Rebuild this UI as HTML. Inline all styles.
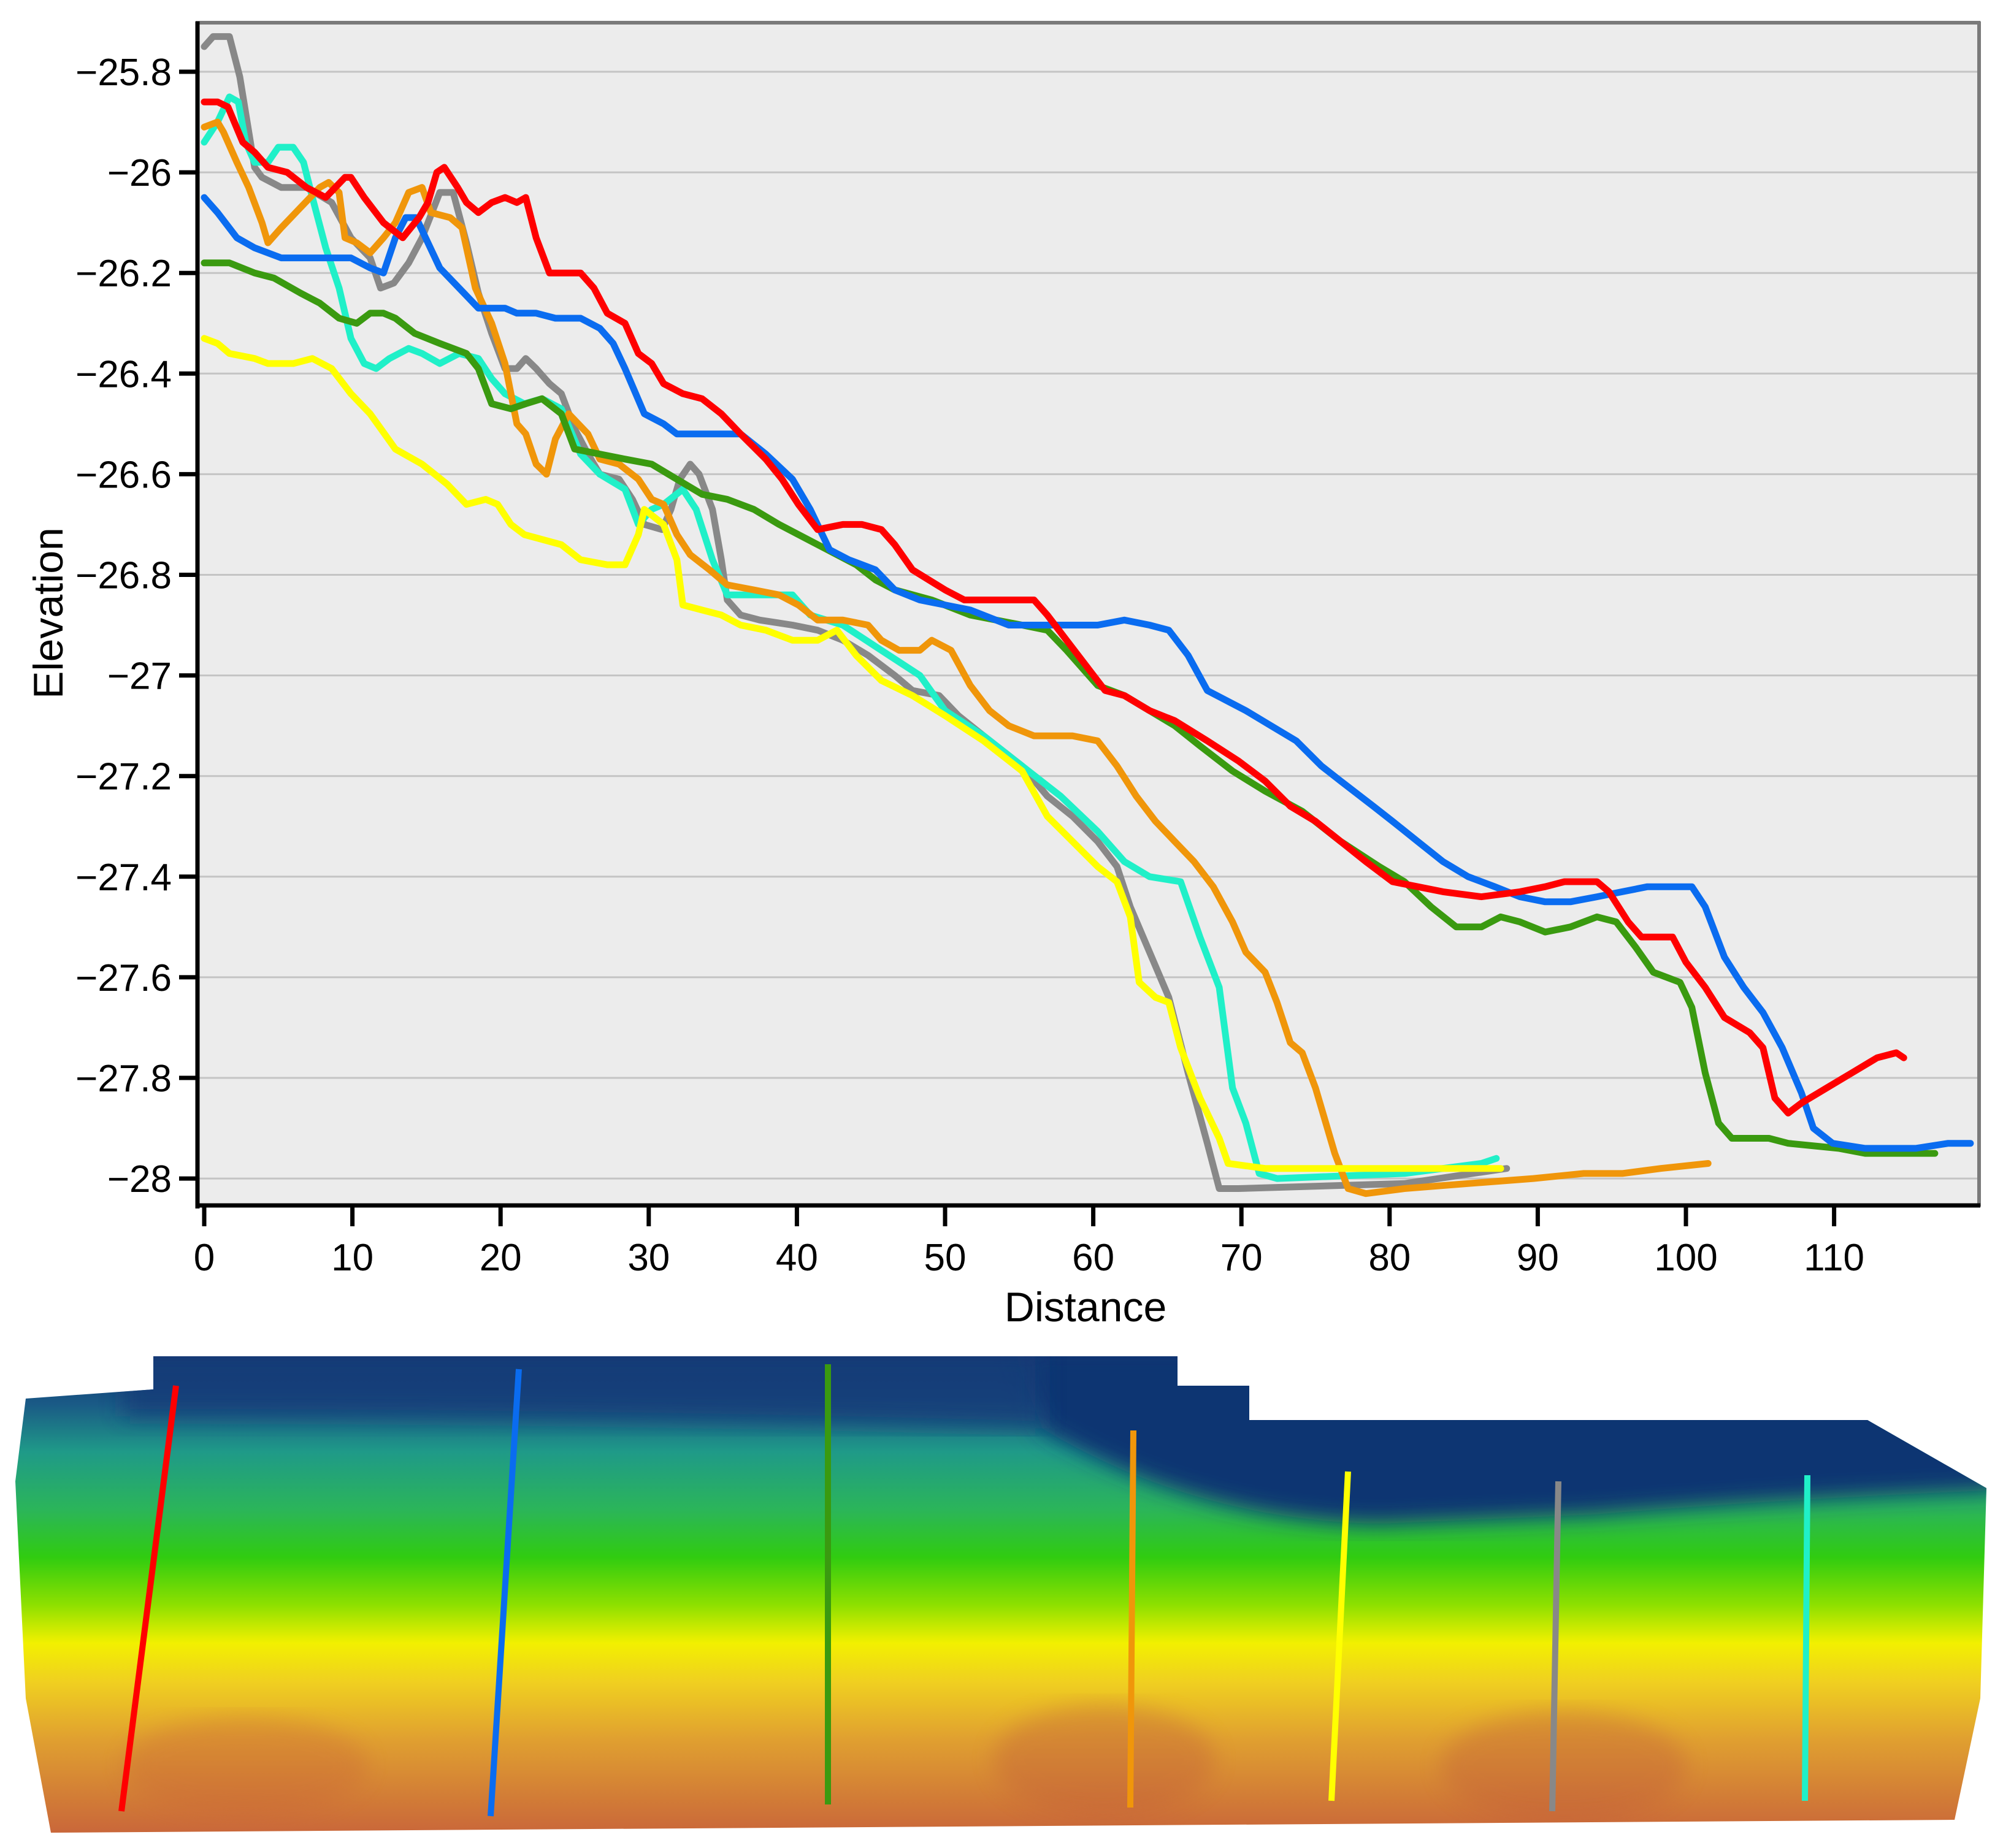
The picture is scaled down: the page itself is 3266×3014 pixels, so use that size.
<!DOCTYPE html>
<html><head><meta charset="utf-8"><style>
html,body{margin:0;padding:0;background:#fff;}
svg{display:block;}
text{font-family:"Liberation Sans",Arial,sans-serif;fill:#000;}
</style></head><body>
<svg id="chart" width="3266" height="3014" viewBox="0 0 3266 3014" xmlns="http://www.w3.org/2000/svg">
<defs>
<linearGradient id="mapgrad" x1="0" y1="0" x2="0" y2="1">
<stop offset="0" stop-color="#0f3472"/>
<stop offset="0.1" stop-color="#1a5a86"/>
<stop offset="0.2" stop-color="#1f9a88"/>
<stop offset="0.32" stop-color="#2bb55a"/>
<stop offset="0.42" stop-color="#30cc10"/>
<stop offset="0.52" stop-color="#8ee000"/>
<stop offset="0.6" stop-color="#f2f000"/>
<stop offset="0.68" stop-color="#f0d020"/>
<stop offset="0.8" stop-color="#e0a030"/>
<stop offset="1" stop-color="#c9663a"/>
</linearGradient>
<filter id="soft"><feGaussianBlur stdDeviation="18"/></filter>
<clipPath id="mapclip"><polygon points="42,2281 250,2266 250,2212 1920,2212 1920,2260 2037,2260 2037,2316 3045,2316 3239,2427 3229,2770 3187,2968 83,2989 42,2770 25,2416"/></clipPath>
<clipPath id="plotclip"><rect x="322" y="38" width="2904" height="1927"/></clipPath>
</defs>
<rect x="319" y="35" width="2910" height="1933" fill="#ececec"/>
<g id="grid"></g>
<g id="series" clip-path="url(#plotclip)"></g>
<line x1="319" y1="37" x2="3229" y2="37" stroke="#7a7a7a" stroke-width="6"/>
<line x1="3227" y1="35" x2="3227" y2="1968" stroke="#7a7a7a" stroke-width="6"/>
<line x1="322" y1="35" x2="322" y2="1971" stroke="#000" stroke-width="7"/>
<line x1="319" y1="1966" x2="3229" y2="1966" stroke="#000" stroke-width="7"/>
<g id="yticks"></g>
<g id="xticks"></g>
<text x="1770" y="2155" font-size="68" text-anchor="middle">Distance</text>
<text transform="translate(102,1000) rotate(-90)" font-size="68" text-anchor="middle">Elevation</text>
<g clip-path="url(#mapclip)">
<rect x="0" y="2212" width="3266" height="780" fill="url(#mapgrad)"/>
<path d="M1650,2200 L1700,2330 Q1950,2480 2250,2485 L2600,2470 Q2900,2445 3260,2430 L3260,2200 Z" fill="#0f3472" filter="url(#soft)"/>
<path d="M200,2200 L1700,2200 L1700,2330 Q1000,2310 200,2310 Z" fill="#123d78" filter="url(#soft)" opacity="0.85"/>
<ellipse cx="2550" cy="2880" rx="200" ry="90" fill="#c05a3a" opacity="0.35" filter="url(#soft)"/>
<ellipse cx="1800" cy="2870" rx="180" ry="90" fill="#c05a3a" opacity="0.35" filter="url(#soft)"/>
<ellipse cx="400" cy="2880" rx="200" ry="80" fill="#c86038" opacity="0.3" filter="url(#soft)"/>
</g>
<g id="transects">
<line x1="287" y1="2260" x2="198" y2="2954" stroke="#ff0000" stroke-width="10"/>
<line x1="846" y1="2233" x2="800" y2="2962" stroke="#0a6cf0" stroke-width="10"/>
<line x1="1350" y1="2225" x2="1350" y2="2943" stroke="#3a9a10" stroke-width="10"/>
<line x1="1848" y1="2333" x2="1843" y2="2948" stroke="#f0960a" stroke-width="10"/>
<line x1="2198" y1="2400" x2="2171" y2="2937" stroke="#ffff00" stroke-width="10"/>
<line x1="2541" y1="2416" x2="2531" y2="2954" stroke="#888888" stroke-width="10"/>
<line x1="2947" y1="2406" x2="2943" y2="2937" stroke="#20f0c8" stroke-width="10"/>
</g>
</svg>
<script>
const yTicks=[-25.8,-26,-26.2,-26.4,-26.6,-26.8,-27,-27.2,-27.4,-27.6,-27.8,-28];
const yTickLabels=["\u221225.8","\u221226","\u221226.2","\u221226.4","\u221226.6","\u221226.8","\u221227","\u221227.2","\u221227.4","\u221227.6","\u221227.8","\u221228"];
const xTicks=[0,10,20,30,40,50,60,70,80,90,100,110];
const seriesNames=["gray","cyan","orange","yellow","green","blue","red"];
const seriesColors=["#888888","#20f0c8","#f0960a","#ffff00","#3a9a10","#0a6cf0","#ff0000"];
const grayD=[0,0.6,1.7,2.4,3.4,3.9,5.2,6.9,8.6,9.9,11.2,11.9,12.8,13.8,14.7,15.9,16.8,17.7,18.5,19.4,20.3,21.1,21.7,22.4,23.3,24.1,25,25.9,26.7,28,28.9,29.7,30.9,31.5,32.1,32.8,33.4,34.3,34.9,35.3,36.2,37.5,39.7,41.4,43.1,44.8,46.6,47.8,49.6,50.9,52.6,55.2,56.9,58.6,60.3,61.6,62.5,63.8,65.1,66.4,67.7,68.5,69.8,81,87.9];
const grayE=[-25.75,-25.73,-25.73,-25.81,-25.99,-26.01,-26.03,-26.03,-26.06,-26.13,-26.17,-26.23,-26.22,-26.18,-26.13,-26.04,-26.04,-26.14,-26.24,-26.32,-26.39,-26.39,-26.37,-26.39,-26.42,-26.44,-26.51,-26.56,-26.6,-26.61,-26.65,-26.7,-26.71,-26.67,-26.61,-26.58,-26.6,-26.67,-26.77,-26.85,-26.88,-26.89,-26.9,-26.91,-26.93,-26.96,-27,-27.03,-27.04,-27.08,-27.12,-27.18,-27.24,-27.28,-27.33,-27.38,-27.46,-27.55,-27.64,-27.79,-27.93,-28.02,-28.02,-28.01,-27.98];
const cyanD=[0,0.9,1.7,2.3,2.8,3.4,4.3,5,6,6.7,7.3,8.2,9.1,9.9,10.8,11.6,12.5,13.8,14.7,15.9,17.2,18.5,19.4,20.3,21.6,22.8,24.1,25.4,26.7,28.4,29.3,30.2,31,32.3,33.2,34.3,35.3,37.9,39.7,40.9,43.1,45.7,48.3,50,52.6,55.2,57.8,60.3,62.1,63.8,65.9,67.2,68.5,69.4,70.3,71.2,72.4,81,86.2,87.2];
const cyanE=[-25.94,-25.9,-25.85,-25.86,-25.94,-25.98,-25.98,-25.95,-25.95,-25.98,-26.05,-26.15,-26.23,-26.33,-26.38,-26.39,-26.37,-26.35,-26.36,-26.38,-26.36,-26.37,-26.41,-26.44,-26.46,-26.45,-26.47,-26.56,-26.6,-26.63,-26.7,-26.67,-26.66,-26.63,-26.67,-26.77,-26.84,-26.84,-26.84,-26.88,-26.9,-26.95,-27,-27.07,-27.12,-27.18,-27.24,-27.31,-27.37,-27.4,-27.41,-27.52,-27.62,-27.82,-27.89,-27.99,-28,-27.99,-27.97,-27.96];
const orangeD=[0,0.9,1.3,2.2,3,3.9,4.3,5.2,6.5,7.8,8.4,9.1,9.5,10.3,11.2,12.1,12.9,13.8,14.7,15.3,16.6,17.4,18.3,19.4,20.3,21.1,21.7,22.4,23.1,23.7,24.6,25.9,26.7,28,29.3,30.2,31,31.9,32.8,34.1,35.3,37.1,38.8,40.1,41.4,43.1,44.8,45.7,46.9,48.3,49.1,50.4,51.7,53,54.3,56,58.6,60.3,61.6,62.9,64.2,65.5,66.8,68.1,69.4,70.3,71.6,72.4,73.3,74.1,75,75.7,76.3,77.2,78.4,81,85.3,89.7,93.1,95.7,98.3,101.5];
const orangeE=[-25.91,-25.9,-25.92,-25.98,-26.03,-26.1,-26.14,-26.11,-26.07,-26.03,-26.02,-26.04,-26.13,-26.14,-26.16,-26.13,-26.1,-26.04,-26.03,-26.08,-26.09,-26.11,-26.23,-26.3,-26.38,-26.5,-26.52,-26.58,-26.6,-26.53,-26.48,-26.52,-26.57,-26.58,-26.61,-26.65,-26.66,-26.72,-26.76,-26.79,-26.82,-26.83,-26.84,-26.86,-26.89,-26.89,-26.9,-26.93,-26.95,-26.95,-26.93,-26.95,-27.02,-27.07,-27.1,-27.12,-27.12,-27.13,-27.18,-27.24,-27.29,-27.33,-27.37,-27.42,-27.49,-27.55,-27.59,-27.65,-27.73,-27.75,-27.82,-27.89,-27.95,-28.02,-28.03,-28.02,-28.01,-28,-27.99,-27.99,-27.98,-27.97];
const yellowD=[0,0.9,1.7,3.4,4.3,6,7.3,8.6,9.9,11.2,12.9,14.7,16.4,17.7,19,19.8,20.7,21.6,24.1,25.4,27.2,28.4,29.3,29.7,31,31.9,32.3,33.6,34.9,36.2,37.9,39.7,41.4,42.7,44,45.7,47.8,50,52.6,55.2,56.9,58.6,60.3,61.6,62.5,63.1,64.2,65.1,65.9,67.2,68.5,69.1,71.6,76.7,81,87.5];
const yellowE=[-26.33,-26.34,-26.36,-26.37,-26.38,-26.38,-26.37,-26.39,-26.44,-26.48,-26.55,-26.58,-26.62,-26.66,-26.65,-26.66,-26.7,-26.72,-26.74,-26.77,-26.78,-26.78,-26.72,-26.67,-26.7,-26.77,-26.86,-26.87,-26.88,-26.9,-26.91,-26.93,-26.93,-26.91,-26.96,-27.01,-27.04,-27.08,-27.13,-27.19,-27.28,-27.33,-27.38,-27.41,-27.48,-27.61,-27.64,-27.65,-27.74,-27.84,-27.92,-27.97,-27.98,-27.98,-27.98,-27.98];
const greenD=[0,1.7,3.4,4.7,6.5,7.8,9.1,10.3,11.2,12.1,12.9,14.2,15.9,17.7,18.5,19.4,20.7,21.7,22.8,24.1,25,26.7,28.4,30.2,31.9,33.6,35.3,37.1,38.8,41.4,44,45.3,46.6,49.1,51.7,55.2,56.9,58.2,60.3,62.1,63.8,65.5,67.2,69.4,71.6,74.1,76.7,79.3,81,82.8,84.5,86.2,87.5,88.8,90.5,92.2,94,95.3,96.6,97.8,99.6,100.4,101.3,102.2,103.1,105.6,106.9,110.3,112.1,116.8];
const greenE=[-26.18,-26.18,-26.2,-26.21,-26.24,-26.26,-26.29,-26.3,-26.28,-26.28,-26.29,-26.32,-26.34,-26.36,-26.39,-26.46,-26.47,-26.46,-26.45,-26.48,-26.55,-26.56,-26.57,-26.58,-26.61,-26.64,-26.65,-26.67,-26.7,-26.74,-26.78,-26.81,-26.83,-26.85,-26.88,-26.9,-26.91,-26.95,-27.02,-27.04,-27.07,-27.1,-27.14,-27.19,-27.23,-27.27,-27.33,-27.38,-27.41,-27.46,-27.5,-27.5,-27.48,-27.49,-27.51,-27.5,-27.48,-27.49,-27.54,-27.59,-27.61,-27.66,-27.79,-27.89,-27.92,-27.92,-27.93,-27.94,-27.95,-27.95];
const blueD=[0,0.9,2.2,3.4,5.2,8.6,9.9,11.2,12.1,12.9,13.6,14.3,15.1,15.9,17.2,18.5,20.3,21.1,22.4,23.7,25.4,26.7,27.6,28.4,29.7,31,31.9,34.1,36.2,37.9,39.7,40.9,42.2,43.5,45.3,46.6,48.3,51.7,54.3,57.8,60.3,62.1,63.8,65.1,66.4,67.7,69,70.3,72,73.7,75.4,76.7,78.9,80.2,81.9,83.6,85.3,87.1,88.8,90.5,92.2,94,95.7,97.4,99.1,100.4,101.3,102.6,103.9,105.2,106.5,107.8,108.6,109.9,112.1,115.5,117.7,119.2];
const blueE=[-26.05,-26.08,-26.13,-26.15,-26.17,-26.17,-26.17,-26.19,-26.2,-26.13,-26.09,-26.09,-26.14,-26.19,-26.23,-26.27,-26.27,-26.28,-26.28,-26.29,-26.29,-26.31,-26.34,-26.39,-26.48,-26.5,-26.52,-26.52,-26.52,-26.56,-26.61,-26.67,-26.75,-26.77,-26.79,-26.83,-26.85,-26.87,-26.9,-26.9,-26.9,-26.89,-26.9,-26.91,-26.96,-27.03,-27.05,-27.07,-27.1,-27.13,-27.18,-27.21,-27.26,-27.29,-27.33,-27.37,-27.4,-27.42,-27.44,-27.45,-27.45,-27.44,-27.43,-27.42,-27.42,-27.42,-27.46,-27.56,-27.62,-27.67,-27.74,-27.83,-27.9,-27.93,-27.94,-27.94,-27.93,-27.93];
const redD=[0,0.9,1.6,2.6,3.4,4.3,5.6,6.9,8.2,9.5,9.9,10.8,12.1,13.4,14.5,15.1,15.7,16.2,17.1,17.7,18.5,19.4,20.3,21.1,21.7,22.4,23.3,24.6,25.4,26.3,27.2,28.4,29.3,30.2,31,32.3,33.6,34.9,36.2,37.9,39,40.1,41.4,43.1,44.4,45.7,46.6,47.8,50,51.3,53.4,54.7,56,56.9,58.2,59.5,60.8,62.1,63.8,65.5,67.7,69.8,71.6,73.3,75,76.7,78.4,80.2,81.9,83.6,86.2,88.8,90.5,91.8,94,94.8,96.1,97,99.1,100,101.3,102.6,104.3,105.2,106,106.9,107.8,109.5,111.2,112.9,114.2,114.7];
const redE=[-25.86,-25.86,-25.87,-25.94,-25.96,-25.99,-26,-26.03,-26.05,-26.01,-26.01,-26.05,-26.1,-26.13,-26.09,-26.06,-26,-25.99,-26.03,-26.06,-26.08,-26.06,-26.05,-26.06,-26.05,-26.13,-26.2,-26.2,-26.2,-26.23,-26.28,-26.3,-26.36,-26.38,-26.42,-26.44,-26.45,-26.48,-26.52,-26.57,-26.61,-26.66,-26.71,-26.7,-26.7,-26.71,-26.74,-26.79,-26.83,-26.85,-26.85,-26.85,-26.85,-26.88,-26.93,-26.98,-27.03,-27.04,-27.07,-27.09,-27.13,-27.17,-27.21,-27.26,-27.29,-27.33,-27.37,-27.41,-27.42,-27.43,-27.44,-27.43,-27.42,-27.41,-27.41,-27.43,-27.49,-27.52,-27.52,-27.57,-27.62,-27.68,-27.71,-27.74,-27.84,-27.87,-27.85,-27.82,-27.79,-27.76,-27.75,-27.76];
const seriesD=[grayD,cyanD,orangeD,yellowD,greenD,blueD,redD];
const seriesE=[grayE,cyanE,orangeE,yellowE,greenE,blueE,redE];

const NS="http://www.w3.org/2000/svg";
function xScale(d){return 333+d*24.16;}
function yScale(e){return 117+(-25.8-e)*820.5;}
const grid=document.getElementById('grid');
const yt=document.getElementById('yticks');
yTicks.forEach((v,i)=>{
  const y=yScale(v);
  const g=document.createElementNS(NS,'line');
  g.setAttribute('x1',322);g.setAttribute('x2',3226);g.setAttribute('y1',y);g.setAttribute('y2',y);
  g.setAttribute('stroke','#c4c4c4');g.setAttribute('stroke-width',3);
  
  
  grid.appendChild(g);
  const t=document.createElementNS(NS,'line');
  t.setAttribute('x1',292);t.setAttribute('x2',322);t.setAttribute('y1',y);t.setAttribute('y2',y);
  t.setAttribute('stroke','#000');t.setAttribute('stroke-width',7);
  
  
  yt.appendChild(t);
  const l=document.createElementNS(NS,'text');
  l.setAttribute('x',280);l.setAttribute('y',y+22);l.setAttribute('text-anchor','end');l.setAttribute('font-size',62);
  l.textContent=yTickLabels[i];
  
  
  yt.appendChild(l);
});
const xt=document.getElementById('xticks');
xTicks.forEach(v=>{
  const x=xScale(v);
  const t=document.createElementNS(NS,'line');
  t.setAttribute('x1',x);t.setAttribute('x2',x);t.setAttribute('y1',1966);t.setAttribute('y2',2000);
  t.setAttribute('stroke','#000');t.setAttribute('stroke-width',7);
  
  
  xt.appendChild(t);
  const l=document.createElementNS(NS,'text');
  l.setAttribute('x',x);l.setAttribute('y',2072);l.setAttribute('text-anchor','middle');l.setAttribute('font-size',62);
  l.textContent=String(v);
  
  
  xt.appendChild(l);
});
const sg=document.getElementById('series');
seriesNames.forEach((n,i)=>{
  const D=seriesD[i],E=seriesE[i];
  let d='';
  for(let k=0;k<D.length;k++){d+=(k?'L':'M')+xScale(D[k]).toFixed(1)+','+yScale(E[k]).toFixed(1);}
  const p=document.createElementNS(NS,'path');
  p.setAttribute('d',d);p.setAttribute('fill','none');p.setAttribute('stroke',seriesColors[i]);
  p.setAttribute('stroke-width',11);p.setAttribute('stroke-linejoin','round');p.setAttribute('stroke-linecap','round');
  
  
  sg.appendChild(p);
});
</script>
</body></html>
